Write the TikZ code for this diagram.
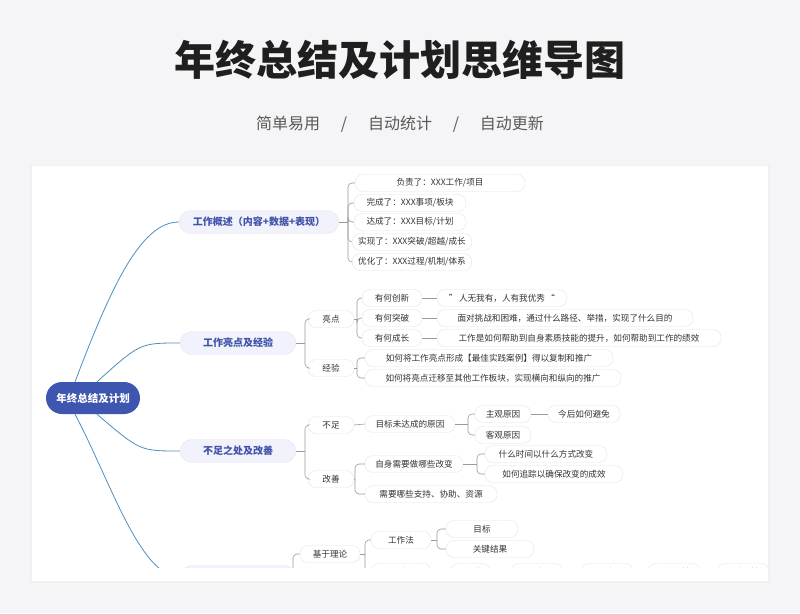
\documentclass[tikz,border=0pt]{standalone}
\usepackage{fontspec}
\setmainfont{Noto Sans CJK SC}
\usetikzlibrary{calc}
\definecolor{rootc}{HTML}{3F56B0}
\definecolor{lone}{HTML}{F1F2FB}
\definecolor{ltxt}{HTML}{3D52A8}
\definecolor{curvec}{HTML}{4F8FBF}
\definecolor{linec}{HTML}{9A9A9A}
\definecolor{bg}{HTML}{F5F5F7}
\tikzset{
 rootn/.style={fill=rootc,text=white,rounded corners=16pt,minimum width=94pt,minimum height=32pt,font=\fontsize{10.5}{12}\selectfont\bfseries},
 lonen/.style={fill=lone,draw=rootc!15,rounded corners=12pt,minimum height=23pt,text=ltxt,font=\fontsize{10}{12}\selectfont\bfseries},
 leaf/.style={fill=white,draw=black!10,rounded corners=8pt,minimum height=17pt,inner xsep=6pt,text=black!80,font=\fontsize{8.6}{9}\selectfont},
 cur/.style={draw=curvec,line width=0.8pt},
 br/.style={draw=linec,line width=0.6pt,rounded corners=4pt},
 st/.style={draw=linec,line width=0.6pt},
}
\begin{document}
\begin{tikzpicture}[x=1pt,y=-1pt]
\useasboundingbox (0,0) rectangle (800,613);
\fill[bg] (0,0) rectangle (800,613);
\fill[black!6] (30,165) rectangle (770,583);
\fill[white] (32,166) rectangle (768,581);
\node[font=\fontsize{41}{44}\selectfont\bfseries,text=black!88] (title) at (400,60) {年终总结及计划思维导图};
\node[font=\fontsize{16}{18}\selectfont,text=black!65] (sub) at (400,124) {简单易用\hspace{1.3em}/\hspace{1.3em}自动统计\hspace{1.3em}/\hspace{1.3em}自动更新};
\begin{scope}
\clip (32,166) rectangle (768,567);
\node[rootn] (root) at (93,398) {年终总结及计划};
\node[lonen,minimum width=160pt] (a) at (259,222) {工作概述（内容+数据+表现）};
\node[lonen,minimum width=116pt] (b) at (238,343) {工作亮点及经验};
\node[lonen,minimum width=116pt] (c) at (238,451) {不足之处及改善};
\node[lonen,minimum width=116pt] (d) at (238,577) {工作计划};
\draw[cur] (root.north) ++(-18,0) .. controls (110,290) and (140,222) .. (a.west);
\draw[cur] (root.north) ++(-18,0) ++(22,0) .. controls (140,343) .. (b.west);
\draw[cur] (root.south) ++(4,0) .. controls (140,451) .. (c.west);
\draw[cur] (root.south) ++(-18,0) .. controls (110,480) and (140,577) .. (d.west);
% branch a
\node[leaf,minimum width=170pt] (a1) at (440,183) {负责了：XXX工作/项目};
\node[leaf,minimum width=112pt] (a2) at (410,203) {完成了：XXX事项/板块};
\node[leaf,minimum width=112pt] (a3) at (410,222) {达成了：XXX目标/计划};
\node[leaf,minimum width=116pt] (a4) at (412,242) {实现了：XXX突破/超越/成长};
\node[leaf,minimum width=116pt] (a5) at (412,262) {优化了：XXX过程/机制/体系};
\coordinate (ba) at (348,0);
\draw[st] (a.east) -- (ba |- a.east);
\foreach \n in {a1,a2,a3,a4,a5} \draw[br] (ba |- a.east) |- (\n.west);
% branch b
\node[leaf,minimum width=46pt] (b1) at (331,319) {亮点};
\node[leaf,minimum width=46pt] (b2) at (331,368) {经验};
\coordinate (bb) at (305,0);
\draw[st] (b.east) -- (bb |- b.east);
\foreach \n in {b1,b2} \draw[br] (bb |- b.east) |- (\n.west);
\node[leaf,minimum width=60pt] (b11) at (392,298) {有何创新};
\node[leaf,minimum width=60pt] (b12) at (392,318) {有何突破};
\node[leaf,minimum width=60pt] (b13) at (392,338) {有何成长};
\coordinate (bb1) at (357,0);
\draw[st] (b1.east) -- (bb1 |- b1.east);
\foreach \n in {b11,b12,b13} \draw[br] (bb1 |- b1.east) |- (\n.west);
\node[leaf,minimum width=130pt] (b111) at (502,298) {”\,人无我有，人有我优秀\,“};
\node[leaf,minimum width=256pt] (b121) at (565,318) {面对挑战和困难，通过什么路径、举措，实现了什么目的};
\node[leaf,minimum width=284pt] (b131) at (579,338) {工作是如何帮助到自身素质技能的提升，如何帮助到工作的绩效};
\foreach \p/\q in {b11/b111,b12/b121,b13/b131} \draw[st] (\p.east) -- (\q.west);
\node[leaf,minimum width=248pt] (b21) at (489,358) {如何将工作亮点形成【最佳实践案例】得以复制和推广};
\node[leaf,minimum width=256pt] (b22) at (493,378) {如何将亮点迁移至其他工作板块，实现横向和纵向的推广};
\coordinate (bb2) at (357,0);
\draw[st] (b2.east) -- (bb2 |- b2.east);
\foreach \n in {b21,b22} \draw[br] (bb2 |- b2.east) |- (\n.west);
% branch c
\node[leaf,minimum width=46pt] (c1) at (331,425) {不足};
\node[leaf,minimum width=46pt] (c2) at (331,479) {改善};
\coordinate (bc) at (305,0);
\draw[st] (c.east) -- (bc |- c.east);
\foreach \n in {c1,c2} \draw[br] (bc |- c.east) |- (\n.west);
\node[leaf,minimum width=90pt] (c11) at (410,424) {目标未达成的原因};
\draw[st] (c1.east) -- (c11.west);
\node[leaf,minimum width=56pt] (c111) at (503,414) {主观原因};
\node[leaf,minimum width=56pt] (c112) at (503,435) {客观原因};
\coordinate (bc1) at (468,0);
\draw[st] (c11.east) -- (bc1 |- c11.east);
\foreach \n in {c111,c112} \draw[br] (bc1 |- c11.east) |- (\n.west);
\node[leaf,minimum width=72pt] (c1111) at (584,414) {今后如何避免};
\draw[st] (c111.east) -- (c1111.west);
\node[leaf,minimum width=98pt] (c21) at (414,464) {自身需要做哪些改变};
\node[leaf,minimum width=132pt] (c22) at (431,494) {需要哪些支持、协助、资源};
\coordinate (bc2) at (355,0);
\draw[st] (c2.east) -- (bc2 |- c2.east);
\foreach \n in {c21,c22} \draw[br] (bc2 |- c2.east) |- (\n.west);
\node[leaf,minimum width=122pt] (c211) at (546,454) {什么时间以什么方式改变};
\node[leaf,minimum width=138pt] (c212) at (554,474) {如何追踪以确保改变的成效};
\coordinate (bc3) at (477,0);
\draw[st] (c21.east) -- (bc3 |- c21.east);
\foreach \n in {c211,c212} \draw[br] (bc3 |- c21.east) |- (\n.west);
% branch d
\node[leaf,minimum width=60pt] (d1) at (330,554) {基于理论};
\coordinate (bd) at (293,0);
\coordinate (d2) at (300,600);
\draw[st] (d.east) -- (bd |- d.east);
\draw[br] (bd |- d.east) |- (d1.west);
\draw[br] (bd |- d.east) |- (d2);
\node[leaf,minimum width=60pt] (d11) at (401,540) {工作法};
\node[leaf,minimum width=60pt] (d12) at (401,572) {目标};
\coordinate (bd1) at (365,0);
\draw[st] (d1.east) -- (bd1 |- d1.east);
\foreach \n in {d11,d12} \draw[br] (bd1 |- d1.east) |- (\n.west);
\node[leaf,minimum width=72pt] (d111) at (482,529) {目标};
\node[leaf,minimum width=88pt] (d112) at (490,549) {关键结果};
\coordinate (bd2) at (437,0);
\draw[st] (d11.east) -- (bd2 |- d11.east);
\foreach \n in {d111,d112} \draw[br] (bd2 |- d11.east) |- (\n.west);
\node[leaf,minimum width=40pt] (s) at (470,572) {S 具体};
\node[leaf,minimum width=52pt] (m) at (537,572) {M 可衡量};
\node[leaf,minimum width=52pt] (aa) at (607,572) {A 可实现};
\node[leaf,minimum width=52pt] (r) at (674,572) {R 相关性};
\node[leaf,minimum width=52pt] (t) at (743,572) {T 时间性};
\draw[st] (d12.east) -- (s.west);
\draw[st] (s.east) -- (m.west);
\draw[st] (m.east) -- (aa.west);
\draw[st] (aa.east) -- (r.west);
\draw[st] (r.east) -- (t.west);
\end{scope}
\end{tikzpicture}
\end{document}
